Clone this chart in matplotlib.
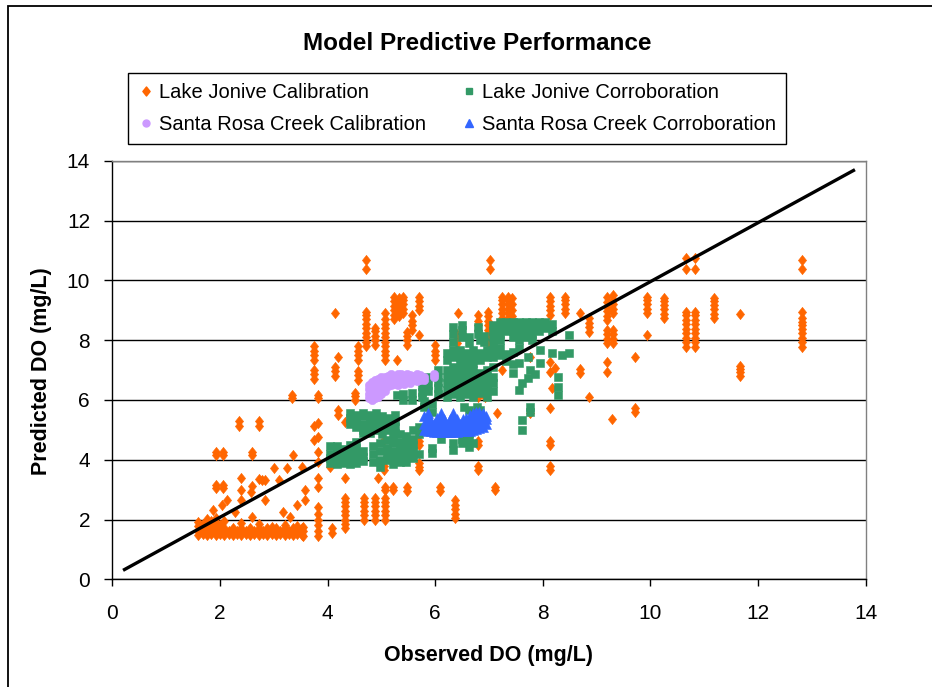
import matplotlib
matplotlib.use("Agg")
import matplotlib.pyplot as plt
from matplotlib.lines import Line2D
from matplotlib.patches import Rectangle
from matplotlib.path import Path

plt.rcParams['font.family'] = ['Liberation Sans', 'DejaVu Sans']

# ---------------- data ----------------
# Lake Jonive Calibration: columns of (observed, [predicted values])
lj_cal_cols = [
    (1.60, [1.48, 1.62, 1.78, 1.92]),
    (1.68, [1.50, 1.66, 1.85]),
    (1.76, [1.48, 1.60, 1.74, 1.90, 2.02]),
    (1.84, [1.50, 1.64, 1.80, 1.95]),
    (1.92, [1.48, 1.60, 1.72, 1.88, 2.05]),
    (2.00, [1.50, 1.64, 1.80]),
    (2.08, [1.48, 1.58, 1.72, 1.95]),
    (2.16, [1.50, 1.62]),
    (2.24, [1.48, 1.60, 1.70]),
    (2.32, [1.50, 1.62]),
    (2.40, [1.48, 1.60, 1.72, 1.88]),
    (2.48, [1.50, 1.62]),
    (2.56, [1.48, 1.60, 1.70]),
    (2.64, [1.50, 1.62]),
    (2.72, [1.48, 1.60, 1.72, 1.85]),
    (2.80, [1.50, 1.62]),
    (2.88, [1.48, 1.58, 1.70]),
    (2.96, [1.50, 1.62, 1.75]),
    (3.04, [1.48, 1.60, 1.72]),
    (3.12, [1.50, 1.62]),
    (3.20, [1.48, 1.60, 1.72, 1.82]),
    (3.28, [1.50, 1.62]),
    (3.36, [1.48, 1.60, 1.70]),
    (3.44, [1.50, 1.62, 1.78]),
    (3.52, [1.48, 1.60, 1.70]),
    (1.88, [2.32]), (2.03, [2.48]), (2.13, [2.65]), (2.28, [2.24]),
    (2.59, [2.09]), (2.39, [2.65, 2.98, 3.38]), (2.58, [2.93]),
    (2.60, [3.12, 4.16, 4.26]), (2.84, [2.65, 3.32]), (2.79, [3.32]),
    (3.09, [3.32]), (3.18, [2.26]), (3.30, [2.09]), (3.43, [2.48]),
    (3.58, [2.65, 2.99]), (2.73, [3.35, 5.12, 5.28]), (2.36, [5.12, 5.28]),
    (1.93, [3.07, 3.17, 4.16, 4.26]), (2.06, [3.07, 3.17, 4.16, 4.26]),
    (3.01, [3.73]), (3.25, [3.73]), (3.52, [3.77]), (3.35, [4.16]),
    (3.33, [6.05, 6.17]),
    (3.74, [6.70, 6.85, 7.00, 7.35, 7.50, 7.65, 7.80, 4.66, 5.13]),
    (3.83, [1.45, 1.60, 1.80, 2.00, 2.20, 2.43, 3.10, 3.38, 3.93, 4.27,
            4.77, 5.22, 6.05, 6.15]),
    (3.55, [1.45, 1.60, 1.75]),
    (4.08, [1.55, 1.70]),
    (4.05, [3.77]),
    (4.33, [1.70, 1.85, 2.00, 2.15, 2.30, 2.45, 2.60, 2.72, 3.38, 5.27]),
    (4.67, [2.00, 2.15, 2.30, 2.45, 2.60, 2.72]),
    (4.88, [2.00, 2.15, 2.30, 2.45, 2.60, 2.72, 7.84, 8.00, 8.15, 8.30, 8.40]),
    (5.07, [2.00, 2.15, 2.30, 2.45, 2.60, 2.72, 2.98, 3.10]),
    (5.22, [2.98, 3.10]),
    (5.47, [2.95, 3.10, 7.84, 8.00, 8.15, 8.28]),
    (6.09, [2.95, 3.10]),
    (6.37, [2.05, 2.20, 2.35, 2.50, 2.65]),
    (7.12, [2.98, 3.10]),
    (5.69, [3.65, 3.77, 3.88, 4.50, 4.62, 8.17, 9.00, 9.15, 9.30, 9.45]),
    (6.80, [3.65, 3.78, 4.50, 4.62, 6.10, 8.34, 8.50, 8.65, 8.84]),
    (8.14, [3.65, 3.78, 4.50, 4.62, 5.72, 6.94, 7.28, 8.84, 9.00, 9.15,
            9.30, 9.45]),
    (5.04, [3.65, 3.78, 4.66]),
    (4.93, [3.38]),
    (4.14, [6.80, 6.95, 7.10, 8.90]),
    (4.19, [7.45, 5.50, 5.65]),
    (4.56, [6.67, 6.82, 6.97, 7.33, 7.50, 7.65, 7.80]),
    (4.51, [6.00, 6.12, 6.22]),
    (4.72, [7.80, 7.95, 8.10, 8.25, 8.40, 8.55, 8.70, 8.85, 8.95,
            10.37, 10.68]),
    (5.06, [7.33, 7.50, 7.65, 7.80, 7.95, 8.10, 8.25, 8.40, 8.55, 8.70, 8.90]),
    (5.24, [8.70, 8.85, 9.00, 9.15, 9.30, 9.45]),
    (5.32, [8.80, 8.95, 9.10, 9.25, 9.40]),
    (5.40, [8.90, 9.05, 9.20, 9.35, 9.45]),
    (5.57, [8.34, 8.50, 8.65, 8.84]),
    (5.29, [7.33]),
    (6.00, [7.33, 7.50, 7.65, 7.84]),
    (6.43, [8.90]),
    (6.40, [7.90, 8.05, 8.20]),
    (6.99, [7.90, 8.05, 8.20, 8.35, 8.50, 8.65, 8.80, 8.95]),
    (7.01, [10.37, 10.68]),
    (7.24, [8.73, 8.90, 9.05, 9.20, 9.35, 9.45, 7.00]),
    (7.36, [8.73, 8.90, 9.05, 9.20, 9.35, 9.45]),
    (7.42, [8.80, 9.00, 9.20, 9.40]),
    (7.14, [5.55]),
    (7.77, [5.57, 7.45]),
    (6.93, [6.10]),
    (8.41, [8.90, 9.05, 9.20, 9.35, 9.45]),
    (8.69, [8.90, 6.90, 7.05]),
    (8.85, [8.28, 8.43, 8.58, 8.73, 6.11]),
    (8.23, [7.06]),
    (8.17, [6.39]),
    (9.19, [8.67, 8.82, 8.97, 9.12, 9.27, 9.45, 7.90, 8.05, 8.20, 8.34,
            7.28, 6.94]),
    (9.30, [8.90, 9.05, 9.20, 9.35, 9.50, 7.90, 8.05, 8.20, 8.34]),
    (9.72, [7.45, 5.58, 5.72]),
    (9.28, [5.35]),
    (9.94, [8.90, 9.05, 9.20, 9.35, 9.45, 8.17]),
    (10.25, [8.73, 8.88, 9.03, 9.18, 9.30, 9.40]),
    (10.66, [7.78, 7.93, 8.08, 8.23, 8.38, 8.53, 8.68, 8.83, 8.95,
             10.37, 10.74]),
    (10.82, [7.78, 7.93, 8.08, 8.23, 8.38, 8.53, 8.68, 8.83, 8.95,
             10.37, 10.74]),
    (11.18, [8.73, 8.88, 9.03, 9.18, 9.30, 9.40]),
    (11.67, [8.87, 6.80, 6.92, 7.05, 7.15]),
    (12.81, [7.78, 7.93, 8.08, 8.23, 8.38, 8.50, 8.62, 8.75, 8.95,
             10.37, 10.68]),
]

# Lake Jonive Corroboration
lj_cor_cols = [
    (4.05, [3.90, 4.05, 4.20, 4.45]),
    (4.17, [3.85, 4.00, 4.15, 4.30, 4.45]),
    (4.29, [3.90, 4.05, 4.20, 4.35]),
    (4.41, [3.85, 4.00, 4.15, 4.30, 4.50, 5.20, 5.40, 5.55]),
    (4.53, [3.90, 4.05, 4.20, 4.40, 4.60, 5.10, 5.30, 5.50]),
    (4.65, [3.95, 4.10, 4.30, 4.90, 5.00, 5.20, 5.45, 5.55]),
    (4.78, [4.90, 5.10, 5.30, 5.50]),
    (4.90, [5.00, 5.20, 5.40, 5.55]),
    (5.02, [4.85, 5.05, 5.25, 5.45]),
    (5.14, [5.00, 5.20, 5.40]),
    (5.26, [4.90, 5.10, 5.30, 5.50]),
    (4.85, [3.93, 4.20, 4.45]),
    (4.98, [3.77, 4.00, 4.30, 4.55]),
    (5.10, [4.00, 4.20, 4.40, 4.65]),
    (5.22, [3.85, 4.10, 4.30, 4.55, 4.75]),
    (5.34, [3.93, 4.15, 4.40, 4.60, 4.85]),
    (5.46, [3.93, 4.15, 4.32, 4.55, 4.78]),
    (5.58, [4.05, 4.30, 4.50, 4.70, 5.00]),
    (5.70, [4.20, 4.85, 5.10]),
    (5.94, [4.21, 4.40, 5.00, 5.60, 5.85]),
    (5.80, [5.75, 5.95]),
    (6.10, [4.70, 4.90]),
    (6.34, [4.32, 4.55]),
    (6.50, [4.55, 4.70]),
    (6.62, [4.43, 4.66, 4.90, 5.66]),
    (6.71, [4.55]),
    (6.53, [5.77]), (6.77, [5.77]), (6.84, [5.66]),
    (5.29, [6.16]),
    (5.41, [6.00, 6.20]),
    (5.57, [6.00, 6.22]),
    (5.75, [6.10, 6.27, 6.45]),
    (5.87, [6.30, 6.50, 6.78]),
    (6.06, [6.20, 6.40, 6.60, 6.78, 7.00]),
    (6.22, [6.10, 6.33, 6.55, 6.78, 7.00, 7.33, 7.56]),
    (6.34, [6.20, 6.44, 6.66, 6.90, 7.11, 7.45, 7.67, 7.95, 8.20, 8.45]),
    (6.46, [6.10, 6.33, 6.55, 6.78, 7.00, 7.22, 7.45, 7.67]),
    (6.49, [8.10, 8.34, 8.50]),
    (6.58, [6.20, 6.44, 6.66, 6.90, 7.11, 7.33, 7.56]),
    (6.62, [7.90, 8.10]),
    (6.71, [6.10, 6.33, 6.55, 6.78, 7.00, 7.22, 7.45, 7.67]),
    (6.80, [8.20, 8.45]),
    (6.83, [6.22, 6.44, 6.66, 6.90, 7.33, 7.56, 8.00]),
    (6.90, [7.95, 8.15]),
    (6.96, [6.11, 6.33, 6.55, 6.78, 7.00, 7.45, 7.67]),
    (7.08, [6.30, 6.55, 6.78, 7.10, 7.45, 7.67, 7.90, 8.10, 8.30, 8.50]),
    (7.20, [7.50, 7.75, 8.00, 8.20, 8.40, 8.60]),
    (7.32, [8.30, 8.50, 8.62, 7.30, 7.55]),
    (7.44, [8.10, 8.30, 8.50, 8.62, 7.60, 7.20, 6.90]),
    (7.56, [8.00, 8.20, 8.40, 8.60, 7.72, 7.22, 6.33]),
    (7.61, [6.55, 5.33, 4.99]),
    (7.68, [8.10, 8.30, 8.50, 8.62]),
    (7.73, [6.72, 7.45]),
    (7.76, [5.77, 5.60, 7.00]),
    (7.80, [8.00, 8.20, 8.40, 8.60]),
    (7.85, [6.85]),
    (7.92, [8.30, 8.50, 8.62]),
    (7.95, [7.67, 7.22]),
    (8.04, [8.40, 8.60]),
    (8.17, [8.30, 8.55, 7.56]),
    (8.29, [6.16, 6.44, 6.78]),
    (8.35, [7.50]),
    (8.48, [8.17, 7.56]),
]

# Santa Rosa Creek Calibration
sr_cal_cols = [
    (4.77, [6.05, 6.20, 6.35, 6.50]),
    (4.82, [6.00, 6.12, 6.28, 6.45, 6.60]),
    (4.88, [6.05, 6.20, 6.35, 6.50, 6.65]),
    (4.94, [6.10, 6.25, 6.40, 6.55, 6.70]),
    (5.00, [6.20, 6.35, 6.50, 6.65, 6.75]),
    (5.06, [6.30, 6.45, 6.60, 6.75]),
    (5.12, [6.45, 6.58, 6.70, 6.80]),
    (5.18, [6.50, 6.62, 6.75, 6.85]),
    (5.24, [6.52, 6.65, 6.80]),
    (5.30, [6.50, 6.62, 6.75, 6.86]),
    (5.36, [6.55, 6.70, 6.85]),
    (5.42, [6.52, 6.65, 6.80]),
    (5.48, [6.60, 6.75, 6.86]),
    (5.54, [6.58, 6.70, 6.84]),
    (5.60, [6.65, 6.80]),
    (5.66, [6.62, 6.75, 6.86]),
    (5.72, [6.68, 6.82]),
    (5.80, [6.65, 6.78]),
    (5.97, [6.78, 6.88]),
]

# Santa Rosa Creek Corroboration
sr_cor_cols = [
    (5.80, [5.00, 5.20, 5.45]),
    (5.86, [4.95, 5.15, 5.35, 5.55]),
    (5.92, [4.95, 5.10, 5.30]),
    (5.98, [4.92, 5.05, 5.20]),
    (6.04, [4.92, 5.05, 5.20, 5.38]),
    (6.10, [4.92, 5.05, 5.22, 5.45, 5.55]),
    (6.16, [4.92, 5.05, 5.20, 5.35]),
    (6.22, [4.92, 5.05, 5.18]),
    (6.28, [4.92, 5.05, 5.20, 5.35]),
    (6.34, [4.92, 5.05, 5.22, 5.42, 5.55]),
    (6.40, [4.93, 5.06, 5.20, 5.35]),
    (6.46, [4.95, 5.08, 5.20]),
    (6.52, [4.95, 5.08, 5.22, 5.36]),
    (6.58, [4.95, 5.10, 5.25, 5.40]),
    (6.64, [4.97, 5.10, 5.25, 5.40, 5.50]),
    (6.70, [5.00, 5.15, 5.30, 5.45, 5.55]),
    (6.76, [5.02, 5.17, 5.32, 5.47, 5.58]),
    (6.82, [5.05, 5.20, 5.35, 5.50, 5.60]),
    (6.88, [5.10, 5.25, 5.40, 5.55]),
    (6.94, [5.20, 5.35, 5.45]),
]

# 1:1 reference line
line_x = [0.2, 13.8]
line_y = [0.3, 13.7]

x_ticks = [0, 2, 4, 6, 8, 10, 12, 14]
y_ticks = [0, 2, 4, 6, 8, 10, 12, 14]

labels = ["Lake Jonive Calibration", "Lake Jonive Corroboration",
          "Santa Rosa Creek Calibration", "Santa Rosa Creek Corroboration"]
colors = ["#FF6600", "#339966", "#CC99FF", "#3366FF"]


def flatten(cols):
    xs, ys = [], []
    for x, yl in cols:
        for y in yl:
            xs.append(x)
            ys.append(y)
    return xs, ys


diamond = Path([(0, 1), (0.8, 0), (0, -1), (-0.8, 0), (0, 1)],
               [Path.MOVETO, Path.LINETO, Path.LINETO, Path.LINETO, Path.CLOSEPOLY])

W, H = 932, 687
fig = plt.figure(figsize=(W / 100, H / 100), dpi=100)
fig.patch.set_facecolor('white')

ax = fig.add_axes([112.3 / W, 1 - 579.3 / H, (865.7 - 112.3) / W, (579.3 - 160.7) / H])

series = [
    (lj_cal_cols, diamond, 7.4, colors[0]),
    (lj_cor_cols, 's', 5.9, colors[1]),
    (sr_cal_cols, 'o', 6.0, colors[2]),
    (sr_cor_cols, '^', 6.6, colors[3]),
]
for i, (cols, mk, ms, c) in enumerate(series):
    xs, ys = flatten(cols)
    ax.plot(xs, ys, linestyle='none', marker=mk, markersize=ms, color=c,
            markeredgecolor=c, markeredgewidth=0.4, zorder=3 + i * 0.1)

ax.plot(line_x, line_y, color='black', linewidth=2.4, zorder=6,
        solid_capstyle='butt')

ax.set_xlim(0, 14)
ax.set_ylim(0, 14)
ax.set_xticks(x_ticks)
ax.set_yticks(y_ticks)
ax.yaxis.grid(True, color='black', linewidth=1.0)
ax.set_axisbelow(True)
for s in ['left', 'bottom']:
    ax.spines[s].set_color('black')
    ax.spines[s].set_linewidth(1.0)
for s in ['top', 'right']:
    ax.spines[s].set_color('#808080')
    ax.spines[s].set_linewidth(1.0)
ax.tick_params(axis='y', direction='out', length=6, width=1, pad=10, labelsize=15)
ax.tick_params(axis='x', direction='out', length=5, width=1, pad=13, labelsize=15)

fig.text(477.5 / W, 1 - 43 / H, "Model Predictive Performance", ha='center',
         va='center', fontsize=17.5, fontweight='bold')
fig.text(489 / W, 1 - 655 / H, "Observed DO (mg/L)", ha='center', va='center',
         fontsize=15.5, fontweight='bold')
fig.text(42 / W, 1 - 371 / H, "Predicted DO (mg/L)", ha='center', va='center',
         rotation=90, fontsize=15.5, fontweight='bold')

handles = [
    Line2D([], [], linestyle='none', marker=diamond, markersize=6.5, color=colors[0]),
    Line2D([], [], linestyle='none', marker='o', markersize=5, color=colors[2]),
    Line2D([], [], linestyle='none', marker='s', markersize=5, color=colors[1]),
    Line2D([], [], linestyle='none', marker='^', markersize=5.5, color=colors[3]),
]
order_labels = [labels[0], labels[2], labels[1], labels[3]]
leg = fig.legend(handles, order_labels, loc='upper left',
                 bbox_to_anchor=(128 / W, 1 - 73 / H), ncol=2, frameon=True,
                 fancybox=False, edgecolor='black', framealpha=1, fontsize=14.5,
                 handlelength=0.8, handletextpad=0.25, columnspacing=1.7,
                 borderpad=0.5, labelspacing=0.65, borderaxespad=0)
leg.get_frame().set_linewidth(1.0)

fig.patches.append(Rectangle((8 / W, -0.1), 1.2, 1.1 - 6 / H,
                             transform=fig.transFigure, fill=False,
                             edgecolor='black', linewidth=1.3))

fig.savefig("out.png", dpi=100)
